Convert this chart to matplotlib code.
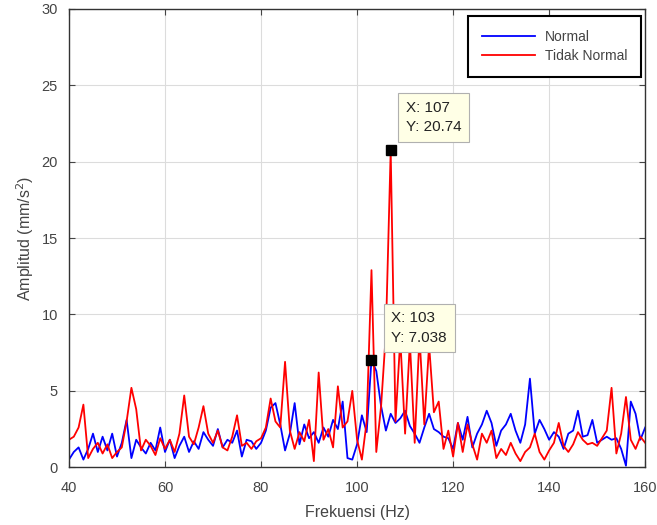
import numpy as np
import matplotlib
matplotlib.use('Agg')
import matplotlib.pyplot as plt

plt.rcParams['font.family'] = ['Liberation Sans', 'DejaVu Sans']

# frekuensi 40..160 Hz, step 1 Hz
freq = np.arange(40, 161)

normal = [0.5, 1.0, 1.3, 0.5, 1.2, 2.2, 1.0, 2.0, 1.1, 2.2,
          0.7, 1.6, 3.1, 0.6, 1.8, 1.3, 0.9, 1.6, 1.1, 2.6,
          1.0, 1.8, 0.6, 1.4, 2.0, 1.0, 1.7, 1.2, 2.3, 1.8,
          1.4, 2.5, 1.3, 1.8, 1.6, 2.4, 0.7, 1.8, 1.7, 1.2,
          1.6, 2.4, 3.9, 4.2, 2.8, 1.1, 2.2, 4.2, 1.5, 2.8,
          1.9, 2.3, 1.6, 2.6, 2.0, 3.1, 2.5, 4.3, 0.6, 0.5,
          1.5, 3.4, 2.3, 7.038, 6.3, 4.0, 2.4, 3.5, 2.9, 3.2,
          3.7, 2.7, 2.2, 1.6, 2.6, 3.5, 2.5, 2.3, 2.0, 1.9,
          1.2, 2.9, 1.8, 3.3, 1.3, 2.2, 2.8, 3.7, 2.9, 1.4,
          2.4, 2.8, 3.5, 2.4, 1.6, 2.8, 5.8, 2.2, 3.1, 2.5,
          1.8, 2.3, 2.0, 1.2, 2.2, 2.4, 3.7, 2.0, 2.1, 3.1,
          1.6, 1.8, 2.0, 1.8, 1.9, 1.2, 0.1, 4.3, 3.5, 1.8,
          2.6]

tidak_normal = [1.8, 2.0, 2.6, 4.1, 0.6, 1.2, 1.6, 0.9, 1.5, 0.6,
                1.0, 1.3, 3.0, 5.2, 3.8, 1.1, 1.8, 1.4, 0.8, 1.9,
                1.2, 1.8, 1.0, 2.2, 4.7, 2.0, 1.5, 2.6, 4.0, 2.2,
                1.6, 2.4, 1.3, 1.1, 2.0, 3.4, 1.4, 1.6, 1.2, 1.7,
                1.9, 2.6, 4.5, 3.0, 2.6, 6.9, 2.4, 1.2, 2.3, 1.7,
                3.1, 0.4, 6.2, 1.8, 2.5, 1.3, 5.3, 2.6, 3.0, 5.0,
                1.8, 0.5, 3.0, 12.9, 1.0, 4.0, 8.8, 20.74, 3.0, 8.4,
                2.2, 8.2, 1.6, 8.6, 2.8, 8.0, 3.6, 4.3, 1.2, 2.4,
                0.7, 2.9, 1.0, 2.8, 1.5, 0.5, 2.2, 1.6, 2.4, 0.6,
                1.2, 0.8, 1.6, 0.9, 0.4, 1.0, 1.3, 2.2, 1.0, 0.5,
                1.1, 1.6, 2.9, 1.4, 1.0, 1.5, 2.3, 1.8, 1.5, 1.6,
                1.4, 1.9, 2.4, 5.2, 0.9, 2.2, 4.6, 1.8, 1.2, 2.0,
                1.6]

# data tips (x, y)
tips = [(107, 20.74), (103, 7.038)]
tip_offsets = [(15, 16), (20, 15)]

fig = plt.figure(figsize=(6.57, 5.25), dpi=100)
ax = fig.add_axes([0.105, 0.11, 0.877, 0.873])

ax.plot(freq, normal, color='#0000ff', lw=1.3, label='Normal')
ax.plot(freq, tidak_normal, color='#ff0000', lw=1.3, label='Tidak Normal')

ax.set_xlim(40, 160)
ax.set_ylim(0, 30)
ax.set_xticks(np.arange(40, 161, 20))
ax.set_yticks(np.arange(0, 31, 5))
ax.grid(True, color='#dcdcdc', lw=0.8)
ax.set_axisbelow(True)
ax.tick_params(direction='in', length=4, labelsize=10.5, colors='#444444',
               top=True, right=True)
ax.tick_params(axis='x', pad=10)
ax.tick_params(axis='y', pad=8)
for s in ax.spines.values():
    s.set_color('#333333')
    s.set_linewidth(1.0)

ax.set_xlabel('Frekuensi (Hz)', fontsize=11.5, color='#444444', labelpad=7)
ax.set_ylabel('Amplitud (mm/s$^2$)', fontsize=11.5, color='#444444', labelpad=4)

leg = ax.legend(loc='upper right', fontsize=10, handlelength=3.8,
                fancybox=False, framealpha=1, borderpad=1.0, handletextpad=0.7,
                labelspacing=0.4, borderaxespad=0,
                bbox_to_anchor=(0.993, 0.985))
leg.get_frame().set_edgecolor('black')
leg.get_frame().set_linewidth(1.5)
for t in leg.get_texts():
    t.set_color('#444444')

for (tx, ty), off in zip(tips, tip_offsets):
    ax.plot(tx, ty, 's', color='black', ms=7.5, zorder=5)
    ax.annotate('X: %g\nY: %s' % (tx, ('%.4g' % ty)), xy=(tx, ty),
                xytext=off, textcoords='offset pixels', ha='left', va='bottom',
                fontsize=11, color='#222222', linespacing=1.5,
                bbox=dict(boxstyle='square,pad=0.5', fc='#ffffe6', ec='#b0b0b0', lw=0.8),
                zorder=6)

fig.savefig('out.png', dpi=100)
